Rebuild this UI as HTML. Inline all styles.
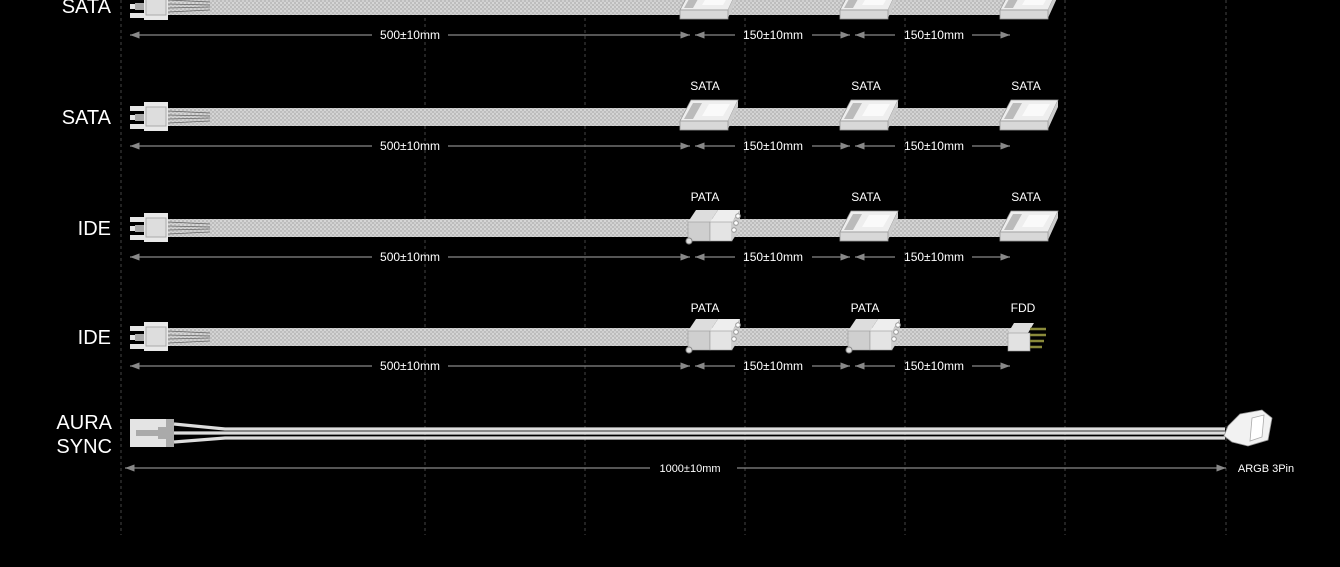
<!DOCTYPE html>
<html><head><meta charset="utf-8"><style>
html,body{margin:0;padding:0;background:#000;width:1340px;height:567px;overflow:hidden}
svg{display:block}
text{font-family:"Liberation Sans",sans-serif;fill:#fff}
</style></head><body>
<svg width="1340" height="567" viewBox="0 0 1340 567" xmlns="http://www.w3.org/2000/svg">
<defs>
<pattern id="br" width="4" height="4" patternUnits="userSpaceOnUse">
<rect width="4" height="4" fill="#bdbdbd"/><rect width="2" height="2" fill="#d6d6d6"/><rect x="2" y="2" width="2" height="2" fill="#d0d0d0"/>
</pattern>
<marker id="al" markerWidth="8" markerHeight="6" refX="0" refY="3" orient="auto"><path d="M8,0 L0,3 L8,6 Z" fill="#888"/></marker>
<marker id="ar" markerWidth="8" markerHeight="6" refX="8" refY="3" orient="auto"><path d="M0,0 L8,3 L0,6 Z" fill="#888"/></marker>
<g id="psu">
<rect x="130" y="-11" width="14" height="5" fill="#e6e6e6"/><rect x="130" y="-2" width="14" height="5" fill="#e6e6e6"/><rect x="130" y="7" width="14" height="5" fill="#e6e6e6"/>
<rect x="135" y="-3" width="12" height="7" fill="#aaa"/>
<rect x="144" y="-15" width="24" height="29" fill="#e8e8e8"/><rect x="146" y="-10" width="20" height="19" fill="#ddd" stroke="#aaa"/>
<path d="M168,-9 L220,-9 L220,9 L168,9 Z" fill="url(#br)"/>
<g stroke="#666" stroke-width="0.8"><line x1="168" y1="-6" x2="210" y2="-4"/><line x1="168" y1="-2" x2="210" y2="-1"/><line x1="168" y1="2" x2="210" y2="1"/><line x1="168" y1="6" x2="210" y2="4"/></g>
</g>
<g id="sata">
<polygon points="0,4 11,-17 58,-17 48,4" fill="#eee" stroke="#999" stroke-width="0.8"/>
<polygon points="4,2 13,-14 22,-14 13,2" fill="#bbb"/>
<polygon points="22,-1 29,-13 50,-13 43,-1" fill="#fafafa"/>
<polygon points="48,4 58,-17 58,-10 48,12" fill="#ccc"/>
<rect x="0" y="4" width="48" height="9" fill="#d8d8d8" stroke="#999" stroke-width="0.8"/>
</g>
<g id="pata">
<polygon points="4,-6 12,-18 34,-18 26,-6" fill="#ddd"/>
<rect x="4" y="-6" width="22" height="19" fill="#cfcfcf" stroke="#999" stroke-width="0.6"/>
<polygon points="26,-6 34,-18 56,-18 48,-6" fill="#eee"/>
<rect x="26" y="-6" width="22" height="19" fill="#e4e4e4" stroke="#999" stroke-width="0.6"/>
<polygon points="48,-6 56,-18 56,1 48,13" fill="#ccc"/>
<circle cx="54" cy="-12" r="2.3" fill="#fff" stroke="#999"/><circle cx="52" cy="-5" r="2.3" fill="#fff" stroke="#999"/><circle cx="50" cy="2" r="2.3" fill="#fff" stroke="#999"/>
<circle cx="5" cy="13" r="3" fill="#ddd" stroke="#888"/>
</g>
<g id="fdd">
<polygon points="0,-4 6,-14 26,-14 20,-4" fill="#ddd"/>
<rect x="0" y="-4" width="22" height="18" fill="#e2e2e2" stroke="#999" stroke-width="0.6"/>
<g stroke="#8a8a3a" stroke-width="2.5"><line x1="22" y1="-8" x2="38" y2="-8"/><line x1="22" y1="-2" x2="38" y2="-2"/><line x1="22" y1="4" x2="36" y2="4"/><line x1="22" y1="10" x2="34" y2="10"/></g>
</g>
<g id="cab"><rect x="200" y="-9" width="845" height="18" fill="url(#br)"/></g>
</defs>

<g stroke="#444" stroke-width="1" stroke-dasharray="3,3">
<line x1="121" y1="0" x2="121" y2="535"/><line x1="425" y1="0" x2="425" y2="535"/><line x1="585" y1="0" x2="585" y2="535"/><line x1="745" y1="0" x2="745" y2="535"/><line x1="905" y1="0" x2="905" y2="535"/><line x1="1065" y1="0" x2="1065" y2="535"/><line x1="1226" y1="0" x2="1226" y2="535"/>
</g>

<!-- rows -->
<g transform="translate(0,6)"><use href="#cab"/><use href="#psu"/><use href="#sata" x="680"/><use href="#sata" x="840"/><use href="#sata" x="1000"/></g>
<g transform="translate(0,117)"><use href="#cab"/><use href="#psu"/><use href="#sata" x="680"/><use href="#sata" x="840"/><use href="#sata" x="1000"/></g>
<g transform="translate(0,228)"><use href="#cab"/><use href="#psu"/><use href="#pata" x="684"/><use href="#sata" x="840"/><use href="#sata" x="1000"/></g>
<g transform="translate(0,337)"><rect x="200" y="-9" width="820" height="18" fill="url(#br)"/><use href="#psu"/><use href="#pata" x="684"/><use href="#pata" x="844"/><use href="#fdd" x="1008"/></g>

<!-- dims -->
<g stroke="#888" stroke-width="1.2" fill="none">
<g id="dims">
<line x1="130" y1="35" x2="372" y2="35" marker-start="url(#al)"/><line x1="448" y1="35" x2="690" y2="35" marker-end="url(#ar)"/>
<line x1="695" y1="35" x2="735" y2="35" marker-start="url(#al)"/><line x1="812" y1="35" x2="850" y2="35" marker-end="url(#ar)"/>
<line x1="855" y1="35" x2="895" y2="35" marker-start="url(#al)"/><line x1="972" y1="35" x2="1010" y2="35" marker-end="url(#ar)"/>
</g>
<use href="#dims" y="111"/><use href="#dims" y="222"/><use href="#dims" y="331"/>
<line x1="125" y1="468" x2="650" y2="468" marker-start="url(#al)"/><line x1="737" y1="468" x2="1226" y2="468" marker-end="url(#ar)"/>
</g>
<g font-size="12" text-anchor="middle">
<text x="410" y="39">500±10mm</text><text x="773" y="39">150±10mm</text><text x="934" y="39">150±10mm</text>
<text x="410" y="150">500±10mm</text><text x="773" y="150">150±10mm</text><text x="934" y="150">150±10mm</text>
<text x="410" y="261">500±10mm</text><text x="773" y="261">150±10mm</text><text x="934" y="261">150±10mm</text>
<text x="410" y="370">500±10mm</text><text x="773" y="370">150±10mm</text><text x="934" y="370">150±10mm</text>
<text x="690" y="472" font-size="11">1000±10mm</text>
<text x="1266" y="472" font-size="11">ARGB 3Pin</text>
<text x="705" y="90">SATA</text><text x="866" y="90">SATA</text><text x="1026" y="90">SATA</text>
<text x="705" y="201">PATA</text><text x="866" y="201">SATA</text><text x="1026" y="201">SATA</text>
<text x="705" y="312">PATA</text><text x="865" y="312">PATA</text><text x="1023" y="312">FDD</text>
</g>
<g font-size="20" text-anchor="end">
<text x="111" y="13">SATA</text><text x="111" y="124">SATA</text><text x="111" y="235">IDE</text><text x="111" y="344">IDE</text>
<text x="112" y="429">AURA</text><text x="112" y="453">SYNC</text>
</g>

<!-- aura -->
<rect x="130" y="419" width="44" height="28" fill="#e4e4e4"/>
<rect x="166" y="419" width="8" height="28" fill="#aaa"/>
<rect x="136" y="430" width="24" height="6" fill="#aaa"/><rect x="158" y="427" width="8" height="12" fill="#aaa"/>
<g stroke="#ddd" stroke-width="3.2" fill="none">
<path d="M174,424 L225,429 L1225,429"/><path d="M174,433 L225,433 L1225,433"/><path d="M174,442 L225,438 L1225,438"/>
</g>
<polygon points="1228,426 1240,414 1262,410 1272,418 1268,440 1248,446 1232,442 1224,436" fill="#f2f2f2" stroke="#999" stroke-width="0.8"/>
<polygon points="1252,418 1264,415 1262,437 1250,441" fill="#fff" stroke="#aaa" stroke-width="0.8"/>
</svg>
</body></html>
